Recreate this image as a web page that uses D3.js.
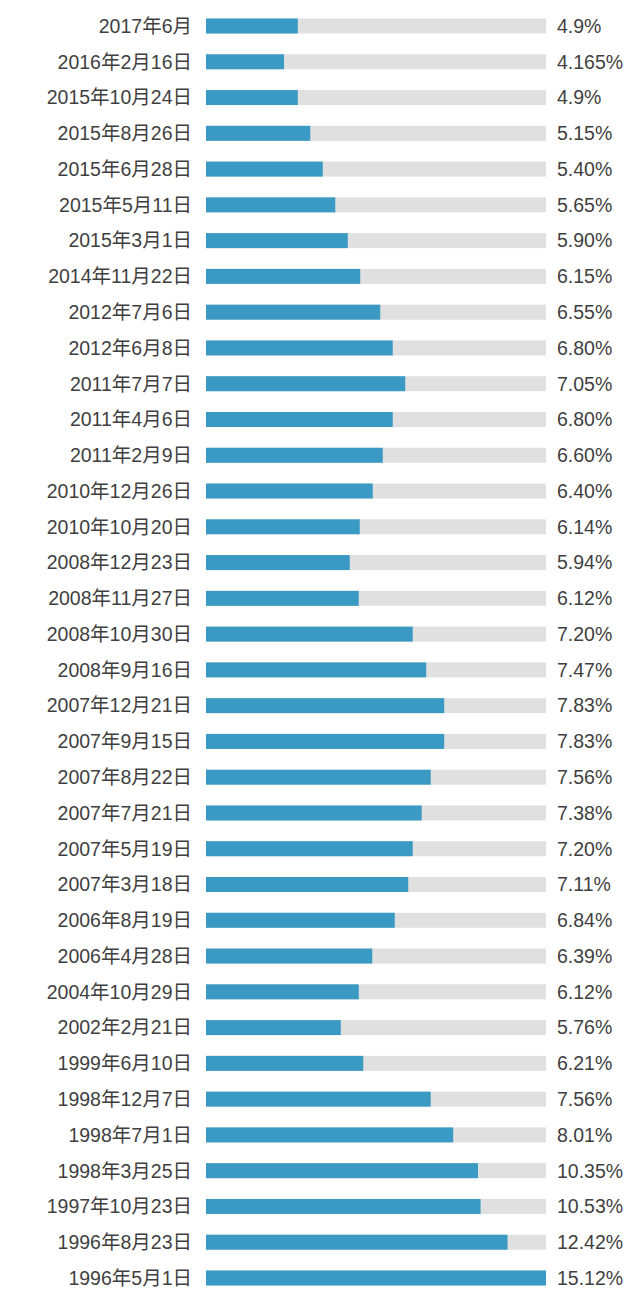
<!DOCTYPE html>
<html>
<head>
<meta charset="utf-8">
<script src="https://cdn.jsdelivr.net/npm/d3@7"></script>
<style>
  body { margin: 0; background: #fff; }
  text { font-family: "Liberation Sans", "Noto Sans CJK SC", sans-serif; }
</style>
</head>
<body>
<svg></svg>
<script>
const dates = [
    "2017年6月", "2016年2月16日", "2015年10月24日", "2015年8月26日", "2015年6月28日",
    "2015年5月11日", "2015年3月1日", "2014年11月22日", "2012年7月6日", "2012年6月8日",
    "2011年7月7日", "2011年4月6日", "2011年2月9日", "2010年12月26日", "2010年10月20日",
    "2008年12月23日", "2008年11月27日", "2008年10月30日", "2008年9月16日", "2007年12月21日",
    "2007年9月15日", "2007年8月22日", "2007年7月21日", "2007年5月19日", "2007年3月18日",
    "2006年8月19日", "2006年4月28日", "2004年10月29日", "2002年2月21日", "1999年6月10日",
    "1998年12月7日", "1998年7月1日", "1998年3月25日", "1997年10月23日", "1996年8月23日",
    "1996年5月1日"
];

const rates = [
    4.9, 4.165, 4.9, 5.15, 5.40, 5.65, 5.90, 6.15, 6.55, 6.80,
    7.05, 6.80, 6.60, 6.40, 6.14, 5.94, 6.12, 7.20, 7.47, 7.83,
    7.83, 7.56, 7.38, 7.20, 7.11, 6.84, 6.39, 6.12, 5.76, 6.21,
    7.56, 8.01, 10.35, 10.53, 12.42, 15.12
];

// labels as printed in the picture (some keep two decimals, some don't)
const rateLabels = [
    "4.9%", "4.165%", "4.9%", "5.15%", "5.40%", "5.65%", "5.90%", "6.15%", "6.55%", "6.80%",
    "7.05%", "6.80%", "6.60%", "6.40%", "6.14%", "5.94%", "6.12%", "7.20%", "7.47%", "7.83%",
    "7.83%", "7.56%", "7.38%", "7.20%", "7.11%", "6.84%", "6.39%", "6.12%", "5.76%", "6.21%",
    "7.56%", "8.01%", "10.35%", "10.53%", "12.42%", "15.12%"
];

const data = dates.map((d, i) => ({ date: d, rate: rates[i], label: rateLabels[i] }));

const width = 640;
const height = 1299;
const barLeft = 206;
const barRight = 546;
const barH = 15;

const svg = d3.select("svg")
    .attr("width", width)
    .attr("height", height);

// the original bars are not proportional: stretched in the middle, squeezed at the top end
const x = d3.scaleLinear()
    .domain([0, 4.9, 8.01, 10.35, 15.12])
    .range([0, 0.27, 0.727, 0.8, 1].map(f => barLeft + f * (barRight - barLeft)));

const y = d3.scalePoint()
    .domain(dates)
    .range([26, 1278]);

const row = svg.selectAll(".row")
    .data(data)
    .enter().append("g")
    .attr("class", "row")
    .attr("transform", d => `translate(0, ${y(d.date)})`);

// grey track
row.append("rect")
    .attr("x", barLeft)
    .attr("y", -barH / 2)
    .attr("width", barRight - barLeft)
    .attr("height", barH)
    .attr("fill", "#e0e0e0");

row.append("rect")
    .attr("x", barLeft)
    .attr("y", -barH / 2)
    .attr("width", d => x(d.rate) - barLeft)
    .attr("height", barH)
    .attr("fill", "#3a9ac3");

row.append("text")
    .attr("x", 192)
    .attr("dy", "0.35em")
    .attr("text-anchor", "end")
    .style("font-size", "19.5px")
    .style("fill", "#3f3f3f")
    .text(d => d.date);

row.append("text")
    .attr("x", 557)
    .attr("dy", "0.35em")
    .style("font-size", "19.5px")
    .style("fill", "#3f3f3f")
    .text(d => d.label);
</script>
</body>
</html>
